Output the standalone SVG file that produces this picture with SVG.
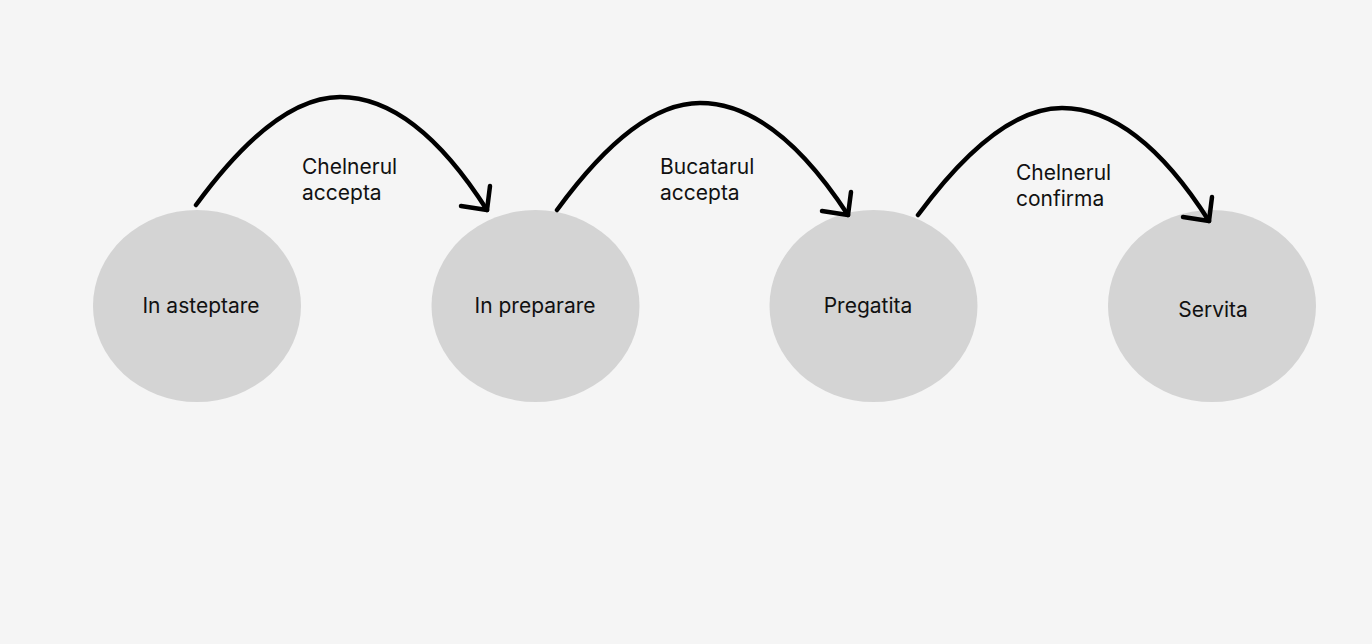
<svg xmlns="http://www.w3.org/2000/svg" width="1372" height="644" viewBox="0 0 1372 644">
<style>
.node{fill:#d4d4d4}
.t{font-family:Inter,"Liberation Sans",sans-serif;font-size:21px;fill:#111}
.c{text-anchor:middle}
.e{fill:none;stroke:#000;stroke-width:4.5;stroke-linecap:round;stroke-linejoin:round}
</style>
<rect width="1372" height="644" fill="#f5f5f5"/>
<g id="n1"><ellipse class="node" cx="197" cy="306" rx="104" ry="96"/><text class="t c" x="201" y="313">In asteptare</text></g>
<g id="n2"><ellipse class="node" cx="535.5" cy="306" rx="104" ry="96"/><text class="t c" x="535" y="313">In preparare</text></g>
<g id="n3"><ellipse class="node" cx="873.5" cy="306" rx="104" ry="96"/><text class="t c" x="868" y="313">Pregatita</text></g>
<g id="n4"><ellipse class="node" cx="1212" cy="306" rx="104" ry="96"/><text class="t c" x="1213" y="317">Servita</text></g>
<g id="edges">
<path class="e" d="M196,205 Q275,97 340,97 Q415,97 487,210"/>
<path class="e" d="M461,206 L487,210 L490,186"/>
<path class="e" d="M557,210 Q635,103 700,103 Q775,103 848,215"/>
<path class="e" d="M822,211 L848,215 L851,192"/>
<path class="e" d="M918,215 Q997,108 1062,108 Q1137,108 1209,221"/>
<path class="e" d="M1183,217 L1209,221 L1212,197"/>
<text class="t" x="302" y="174">Chelnerul</text>
<text class="t" x="302" y="200">accepta</text>
<text class="t" x="660" y="174">Bucatarul</text>
<text class="t" x="660" y="200">accepta</text>
<text class="t" x="1016" y="180">Chelnerul</text>
<text class="t" x="1016" y="206">confirma</text>
</g>
</svg>
